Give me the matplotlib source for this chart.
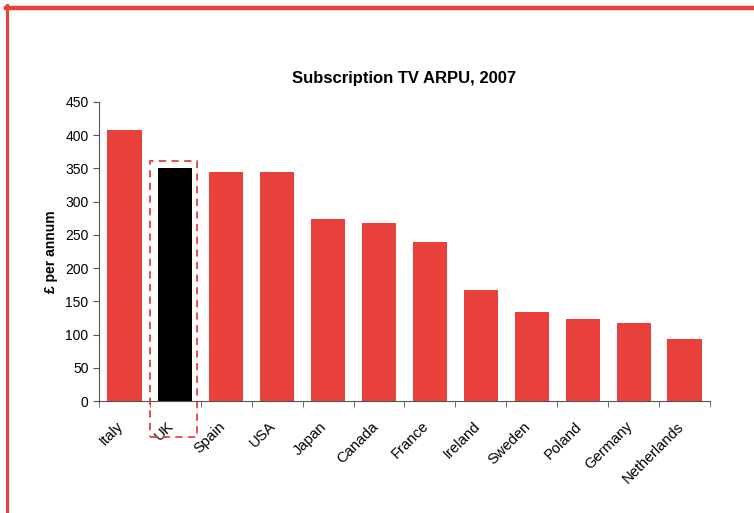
import matplotlib
matplotlib.use("Agg")
import matplotlib.pyplot as plt
from matplotlib.patches import Rectangle
from matplotlib.lines import Line2D
from matplotlib.transforms import ScaledTranslation

countries = ["Italy", "UK", "Spain", "USA", "Japan", "Canada", "France",
             "Ireland", "Sweden", "Poland", "Germany", "Netherlands"]
arpu = [408, 351, 345, 345, 274, 268, 239, 167, 134, 123, 117, 93]
highlight = "UK"

RED = "#E8403A"
plt.rcParams["font.family"] = ["Liberation Sans", "DejaVu Sans"]

fig = plt.figure(figsize=(7.54, 5.13), dpi=100)
ax = fig.add_axes([0.1313, 0.2183, 0.8103, 0.5829])

colors = ["black" if c == highlight else RED for c in countries]
x = list(range(len(countries)))
ax.bar(x, arpu, width=0.67, color=colors, zorder=2)

ax.set_xlim(-0.5, len(countries) - 0.5)
ax.set_ylim(0, 450)
ax.set_yticks(range(0, 451, 50))
ax.tick_params(axis="y", labelsize=10, length=4, color="#555555", direction="out")

# category labels at bar centres, tick marks at category boundaries
ax.set_xticks(x)
ax.set_xticklabels(countries, rotation=45, ha="right", va="top",
                   rotation_mode="anchor", fontsize=10.6)
ax.tick_params(axis="x", which="major", length=0, pad=11)
shift = ScaledTranslation(-6 / 72, -2 / 72, fig.dpi_scale_trans)
for lbl in ax.get_xticklabels():
    lbl.set_transform(lbl.get_transform() + shift)
ax.set_xticks([i - 0.5 for i in range(len(countries) + 1)], minor=True)
ax.tick_params(axis="x", which="minor", length=4, color="#555555", direction="out")

for s in ("top", "right"):
    ax.spines[s].set_visible(False)
for s in ("left", "bottom"):
    ax.spines[s].set_color("#555555")

ax.set_ylabel("£ per annum", fontsize=10, fontweight="bold", labelpad=5)
ax.set_title("Subscription TV ARPU, 2007", fontsize=12, fontweight="bold", pad=14)

# dashed frame around the highlighted country
hi = countries.index(highlight)
ax.add_patch(Rectangle((hi - 0.5, -54), 0.93, 415, fill=False,
                       edgecolor=RED, linestyle=(0, (4, 3)), linewidth=1.3,
                       clip_on=False, zorder=3))

# page border (top and left rules)
fig.add_artist(Line2D([0.0075, 1.0], [0.985, 0.985], color=RED, linewidth=3.2,
                      transform=fig.transFigure))
fig.add_artist(Line2D([0.0087, 0.0087], [0.0, 0.99], color=RED, linewidth=2.2,
                      transform=fig.transFigure))

fig.savefig("out.png", dpi=100)
